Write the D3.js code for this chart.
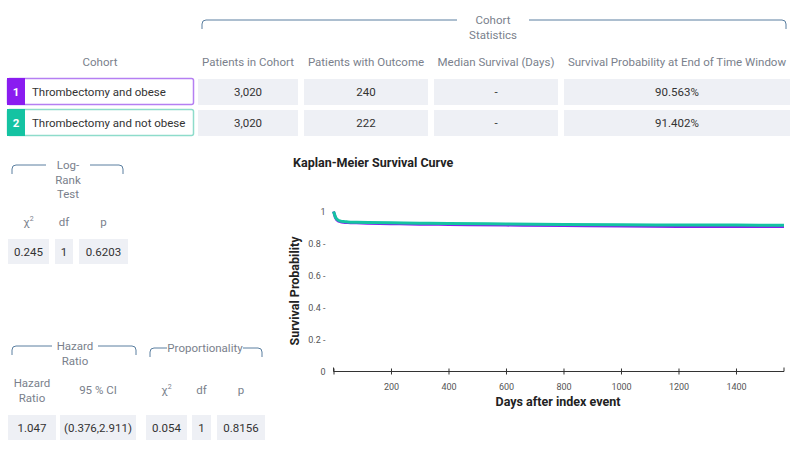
<!DOCTYPE html>
<html>
<head>
<meta charset="UTF-8">
<title>Kaplan-Meier Survival Curve</title>
<style>
  body { margin: 0; background: #fff; }
  text { font-family: Roboto, "Noto Sans", sans-serif; }
</style>
</head>
<body>
<div id="chart"></div>
<script src="https://cdnjs.cloudflare.com/ajax/libs/d3/7.8.5/d3.min.js"></script>
<script>
const width = 800, height = 454;

// cohort table
const cohortNames = ["Thrombectomy and obese", "Thrombectomy and not obese"];
const cohortColors = ["#8a1cf0", "#14c3a2"];
const cohortBorders = ["#b57ff2", "#8edccb"];
const statHeaders = ["Patients in Cohort", "Patients with Outcome", "Median Survival (Days)", "Survival Probability at End of Time Window"];
const patients = ["3,020", "3,020"];
const outcomes = ["240", "222"];
const medians = ["-", "-"];
const endSurvival = ["90.563%", "91.402%"];

// log-rank test
const logRankHeaders = ["χ²", "df", "p"];
const logRankValues = ["0.245", "1", "0.6203"];

// hazard ratio + proportionality
const hazardHeaders = ["Hazard\nRatio", "95 % CI", "χ²", "df", "p"];
const hazardValues = ["1.047", "(0.376,2.911)", "0.054", "1", "0.8156"];

// survival curves (days, probability)
const daysObese =     [0, 2, 4, 6, 9, 13, 18, 25, 35, 50, 80, 120, 200, 300, 400, 600, 800, 1000, 1200, 1400, 1567];
const survObese =     [1, 0.99, 0.978, 0.966, 0.955, 0.946, 0.94, 0.936, 0.933, 0.931, 0.929, 0.927, 0.924, 0.921, 0.919, 0.915, 0.912, 0.909, 0.907, 0.906, 0.9056];
const daysNotObese =  [0, 2, 4, 6, 9, 13, 18, 25, 35, 50, 80, 120, 200, 300, 400, 600, 800, 1000, 1200, 1400, 1567];
const survNotObese =  [1, 0.99, 0.979, 0.968, 0.958, 0.95, 0.944, 0.94, 0.937, 0.935, 0.933, 0.931, 0.929, 0.927, 0.925, 0.922, 0.919, 0.917, 0.916, 0.915, 0.914];
const xTicks = [200, 400, 600, 800, 1000, 1200, 1400];
const yTicks = [0, 0.2, 0.4, 0.6, 0.8, 1];

const svg = d3.select("#chart").append("svg")
  .attr("width", width).attr("height", height);

const headColor = "#7a7f8c", valColor = "#333", cellFill = "#eef0f5", bracketColor = "#5a7fa0";

// bracket with a label in the middle
function bracket(x0, x1, y, lines, cx, gap) {
  const g = svg.append("g");
  g.append("path")
    .attr("d", `M${x0},${y + 9} L${x0},${y + 4} Q${x0},${y} ${x0 + 4},${y} L${cx - gap},${y}`)
    .attr("fill", "none").attr("stroke", bracketColor).attr("stroke-width", 1);
  g.append("path")
    .attr("d", `M${cx + gap},${y} L${x1 - 4},${y} Q${x1},${y} ${x1},${y + 4} L${x1},${y + 9}`)
    .attr("fill", "none").attr("stroke", bracketColor).attr("stroke-width", 1);
  lines.forEach((t, i) => {
    g.append("text").attr("x", cx).attr("y", y + 4 + i * 14.5)
      .attr("text-anchor", "middle").attr("font-size", 11.5).attr("fill", headColor).text(t);
  });
}

function cell(x, y, w, h, t) {
  svg.append("rect").attr("x", x).attr("y", y).attr("width", w).attr("height", h).attr("fill", cellFill);
  svg.append("text").attr("x", x + w / 2).attr("y", y + h / 2 + 4)
    .attr("text-anchor", "middle").attr("font-size", 11.5).attr("fill", valColor).text(t);
}

function header(cx, y, t) {
  const lines = t.split("\n");
  lines.forEach((l, i) => {
    const txt = svg.append("text").attr("x", cx).attr("y", y + i * 15 - (lines.length - 1) * 7.5)
      .attr("text-anchor", "middle").attr("font-size", 11.5).attr("fill", headColor);
    if (l === "χ²") {
      txt.text("χ");
      txt.append("tspan").attr("dy", -5).attr("font-size", 7).text("2");
    } else txt.text(l);
  });
}

// ---- cohort statistics table ----
bracket(202, 786, 20, ["Cohort", "Statistics"], 493, 36);
header(100, 66, "Cohort");
const statCols = [[198, 100], [304, 124], [434, 124], [564, 226]];
statHeaders.forEach((h, i) => header(statCols[i][0] + statCols[i][1] / 2, 66, h));

const rowY = [79, 110];
const statRows = [patients, outcomes, medians, endSurvival];
cohortNames.forEach((name, r) => {
  const y = rowY[r];
  svg.append("rect").attr("x", 7.5).attr("y", y - 0.5).attr("width", 186).attr("height", 26)
    .attr("fill", "#fff").attr("stroke", cohortBorders[r]).attr("stroke-width", 1.5).attr("rx", 2);
  svg.append("rect").attr("x", 7).attr("y", y - 1).attr("width", 18).attr("height", 27).attr("fill", cohortColors[r]);
  svg.append("text").attr("x", 16).attr("y", y + 17).attr("text-anchor", "middle")
    .attr("font-size", 11.5).attr("font-weight", "bold").attr("fill", "#fff").text(r + 1);
  svg.append("text").attr("x", 32).attr("y", y + 17).attr("font-size", 11.5).attr("fill", valColor).text(name);
  statRows.forEach((vals, c) => cell(statCols[c][0], y, statCols[c][1], 26, vals[r]));
});

// ---- log-rank test ----
bracket(12, 123, 165, ["Log-", "Rank", "Test"], 68, 22);
const lrCols = [[8, 41], [55, 18], [79, 49]];
logRankHeaders.forEach((h, i) => header(lrCols[i][0] + lrCols[i][1] / 2, 226, h));
logRankValues.forEach((v, i) => cell(lrCols[i][0], 239, lrCols[i][1], 25, v));

// ---- hazard ratio / proportionality ----
bracket(12, 136, 346, ["Hazard", "Ratio"], 75, 23);
bracket(150, 262, 348, ["Proportionality"], 205, 38);
const hrCols = [[8, 48], [60, 76], [146, 41], [192, 19], [217, 48]];
hazardHeaders.forEach((h, i) => header(hrCols[i][0] + hrCols[i][1] / 2, 394, h));
hazardValues.forEach((v, i) => cell(hrCols[i][0], 415, hrCols[i][1], 25, v));

// ---- Kaplan-Meier chart ----
svg.append("text").attr("x", 293).attr("y", 167).attr("font-size", 12.5)
  .attr("font-weight", "bold").attr("fill", "#222").text("Kaplan-Meier Survival Curve");

const x = d3.scaleLinear().domain([0, 1567]).range([333.5, 784]);
const y = d3.scaleLinear().domain([0, 1]).range([371.5, 211.5]);

const xAxis = svg.append("g").attr("transform", `translate(0,${y(0)})`)
  .call(d3.axisBottom(x).tickValues([0].concat(xTicks)).tickSize(4).tickFormat(d => d === 0 ? "" : d).tickSizeOuter(4));
xAxis.select(".domain").attr("stroke", "#333").attr("d", `M${x(0)},-4V0H${x(1567)}V-4`);
xAxis.selectAll(".tick line").attr("y1", -3).attr("y2", 3).attr("stroke", "#333");
xAxis.selectAll(".tick text").attr("font-size", 9).attr("fill", "#555").attr("dy", "1.3em").attr("font-family", "Roboto, sans-serif");

const yAxis = svg.append("g").attr("transform", `translate(${x(0) - 2},0)`)
  .call(d3.axisLeft(y).tickValues(yTicks).tickSize(0).tickPadding(6).tickFormat(d => d === 0 ? "0" : d === 1 ? "1" : d + " -"));
yAxis.select(".domain").remove();
yAxis.selectAll(".tick text").attr("font-size", 9).attr("fill", "#555").attr("font-family", "Roboto, sans-serif");

svg.append("text").attr("x", 558).attr("y", 406).attr("text-anchor", "middle")
  .attr("font-size", 12.5).attr("font-weight", "bold").attr("fill", "#222").text("Days after index event");
svg.append("text").attr("transform", `translate(299,291) rotate(-90)`).attr("text-anchor", "middle")
  .attr("font-size", 12.5).attr("font-weight", "bold").attr("fill", "#222").text("Survival Probability");

const line = d3.line().x(d => x(d[0])).y(d => y(d[1])).curve(d3.curveMonotoneX);
const curves = [
  { pts: d3.zip(daysObese, survObese), color: cohortColors[0] },
  { pts: d3.zip(daysNotObese, survNotObese), color: cohortColors[1] }
];
svg.selectAll(".km").data(curves).enter().append("path")
  .attr("class", "km").attr("d", d => line(d.pts))
  .attr("fill", "none").attr("stroke", d => d.color).attr("stroke-width", 3);
</script>
</body>
</html>
